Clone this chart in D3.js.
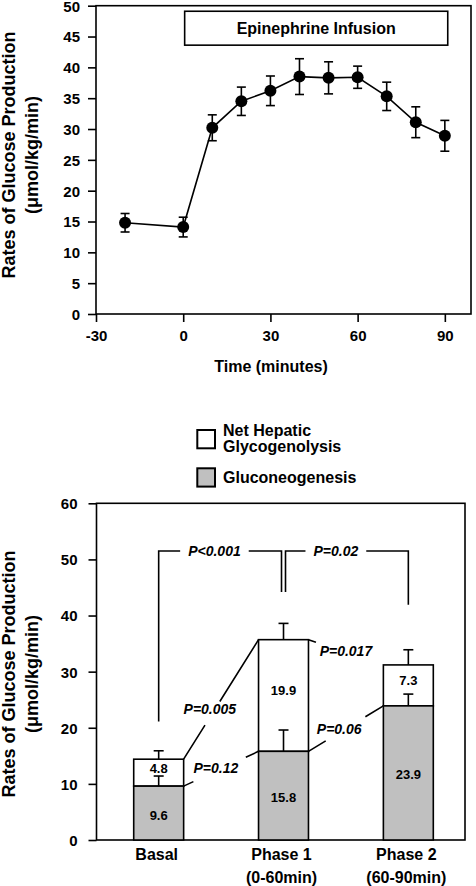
<!DOCTYPE html>
<html>
<head>
<meta charset="utf-8">
<script src="https://cdn.jsdelivr.net/npm/d3@7"></script>
<style>
  html, body { margin: 0; padding: 0; background: #fff; }
  svg { display: block; }
  text { font-family: "Liberation Sans", Arial, Helvetica, sans-serif; font-weight: bold; fill: #000; }
</style>
</head>
<body>
<svg id="chart" width="476" height="886"></svg>
<script>
// ---------------- DATA ----------------
// Top panel: time course
const timeMinutes = [-20, 0, 10, 20, 30, 40, 50, 60, 70, 80, 90];
const glucoseProd = [14.8, 14.1, 30.2, 34.5, 36.2, 38.5, 38.3, 38.4, 35.3, 31.1, 28.9];
const glucoseErr  = [1.5, 1.6, 2.1, 2.3, 2.4, 2.9, 2.6, 1.8, 2.3, 2.5, 2.5];
const timeTicks   = [-30, 0, 30, 60, 90];
const topYTicks   = [0, 5, 10, 15, 20, 25, 30, 35, 40, 45, 50];
const infusionLabel = "Epinephrine Infusion";
const infusionStart = 0, infusionEnd = 90;

// Bottom panel: stacked bars
const phases        = ["Basal", "Phase 1", "Phase 2"];
const phaseSubLabel = ["", "(0-60min)", "(60-90min)"];
const gluconeo      = [9.6, 15.8, 23.9];
const gluconeoErr   = [1.8, 3.8, 2.1];
const glycogenolysis    = [4.8, 19.9, 7.3];
const totalErr      = [1.5, 2.9, 2.7];
const bottomYTicks  = [0, 10, 20, 30, 40, 50, 60];
const legendLabels  = [["Net Hepatic", "Glycogenolysis"], ["Gluconeogenesis"]];

// Statistical comparisons
const bracketComparisons = [
  { label: "P<0.001", from: "Basal",   to: "Phase 1" },
  { label: "P=0.02",  from: "Phase 1", to: "Phase 2" }
];
const lineComparisons = [
  { label: "P=0.005", from: "Basal",   to: "Phase 1", series: "total" },
  { label: "P=0.12",  from: "Basal",   to: "Phase 1", series: "gng" },
  { label: "P=0.017", from: "Phase 1", to: "Phase 2", series: "total" },
  { label: "P=0.06",  from: "Phase 1", to: "Phase 2", series: "gng" }
];

// ---------------- LAYOUT (not data) ----------------
const bracketLayout = {
  topLevel: 51.5,
  legEnd: { "Basal": 21.1, "Phase 1": 44.2, "Phase 2": 41.9 },
  textT: [0.454, 0.41],
  gapPad: 8,
  legOffset: 2
};
const lineLayout = [
  { gap: [0.285, 0.483], textT: 0.35, dy: -8 },
  { gap: [0.13, 0.83],   textT: 0.43, dy: -3 },
  { gap: [0.10, 1.0],    textT: 0.50, dy: -1 },
  { gap: [0.23, 0.76],   textT: 0.41, dy: -4 }
];

const svg = d3.select("#chart");
const LW = 1.6;
const AXIS_FONT = "15px";
const plainFmt = d => String(d);

// ================= TOP PANEL =================
const xT = d3.scaleLinear().domain([-30, 99]).range([96, 471]);
const yT = d3.scaleLinear().domain([0, 50]).range([314, 5.7]);

const topG = svg.append("g");

// frame
topG.append("rect")
  .attr("x", xT.range()[0]).attr("y", yT.range()[1])
  .attr("width", xT.range()[1] - xT.range()[0])
  .attr("height", yT.range()[0] - yT.range()[1])
  .attr("fill", "none").attr("stroke", "#000").attr("stroke-width", LW);

const yAxisT = topG.append("g")
  .attr("transform", `translate(${xT.range()[0]},0)`)
  .call(d3.axisLeft(yT).tickValues(topYTicks).tickFormat(plainFmt).tickSize(8).tickPadding(8).tickSizeOuter(0));
const xAxisT = topG.append("g")
  .attr("transform", `translate(0,${yT.range()[0]})`)
  .call(d3.axisBottom(xT).tickValues(timeTicks).tickFormat(plainFmt).tickSize(8).tickPadding(5).tickSizeOuter(0));
[yAxisT, xAxisT].forEach(a => {
  a.select(".domain").remove();
  a.selectAll(".tick line").attr("stroke", "#000").attr("stroke-width", LW);
  a.selectAll(".tick text").style("font-size", AXIS_FONT).style("font-weight", "bold")
    .style("font-family", '"Liberation Sans", Arial, sans-serif').attr("fill", "#000");
});
xAxisT.selectAll(".tick text").attr("dy", "0.9em");
yAxisT.selectAll(".tick text").attr("dy", "0.36em");

// infusion box
topG.append("rect")
  .attr("x", xT(infusionStart + 0.5)).attr("y", yT(49.1))
  .attr("width", xT(infusionEnd + 1) - xT(infusionStart + 0.5))
  .attr("height", yT(43.6) - yT(49.1))
  .attr("fill", "#fff").attr("stroke", "#000").attr("stroke-width", LW);
topG.append("text")
  .attr("x", (xT(infusionStart + 0.5) + xT(infusionEnd + 1)) / 2)
  .attr("y", (yT(49.1) + yT(43.6)) / 2)
  .attr("text-anchor", "middle").attr("dominant-baseline", "central")
  .style("font-size", "16px").text(infusionLabel);

const pts = timeMinutes.map((t, i) => ({ t, v: glucoseProd[i], e: glucoseErr[i] }));

// error bars
const eb = topG.append("g").attr("stroke", "#000").attr("stroke-width", LW);
pts.forEach(p => {
  eb.append("line").attr("x1", xT(p.t)).attr("x2", xT(p.t))
    .attr("y1", yT(p.v - p.e)).attr("y2", yT(p.v + p.e));
  [p.v - p.e, p.v + p.e].forEach(v => {
    eb.append("line").attr("x1", xT(p.t) - 4.5).attr("x2", xT(p.t) + 4.5)
      .attr("y1", yT(v)).attr("y2", yT(v));
  });
});
// line
topG.append("path").datum(pts)
  .attr("d", d3.line().x(d => xT(d.t)).y(d => yT(d.v)))
  .attr("fill", "none").attr("stroke", "#000").attr("stroke-width", LW);
// points
topG.selectAll("circle.pt").data(pts).join("circle")
  .attr("cx", d => xT(d.t)).attr("cy", d => yT(d.v)).attr("r", 6).attr("fill", "#000");

// axis titles
function yTitle(g, cy) {
  g.append("text").attr("transform", `translate(15,${cy}) rotate(-90)`)
    .attr("text-anchor", "middle").style("font-size", "18px").text("Rates of Glucose Production");
  g.append("text").attr("transform", `translate(38,${cy}) rotate(-90)`)
    .attr("text-anchor", "middle").style("font-size", "18px").text("(μmol/kg/min)");
}
yTitle(topG, 155);
topG.append("text").attr("x", 271).attr("y", 366)
  .attr("text-anchor", "middle").attr("dominant-baseline", "central")
  .style("font-size", "16px").text("Time (minutes)");

// ================= BOTTOM PANEL =================
const xB = d3.scaleBand().domain(phases).range([96.5, 465])
  .paddingInner(0.6).paddingOuter(0.276).align(0.54);
const yB = d3.scaleLinear().domain([0, 60]).range([840, 503.3]);
const bot = svg.append("g");

bot.append("rect")
  .attr("x", xB.range()[0]).attr("y", yB.range()[1])
  .attr("width", xB.range()[1] - xB.range()[0])
  .attr("height", yB.range()[0] - yB.range()[1])
  .attr("fill", "none").attr("stroke", "#000").attr("stroke-width", LW);

const yAxisB = bot.append("g").attr("transform", `translate(${xB.range()[0]},0)`)
  .call(d3.axisLeft(yB).tickValues(bottomYTicks).tickFormat(plainFmt).tickSize(8).tickPadding(11).tickSizeOuter(0));
yAxisB.select(".domain").remove();
yAxisB.selectAll(".tick line").attr("stroke", "#000").attr("stroke-width", LW);
yAxisB.selectAll(".tick text").style("font-size", AXIS_FONT).style("font-weight", "bold")
  .style("font-family", '"Liberation Sans", Arial, sans-serif').attr("fill", "#000").attr("dy", "0.36em");

const xAxisB = bot.append("g").attr("transform", `translate(0,${yB.range()[0]})`)
  .call(d3.axisBottom(xB).tickSize(0).tickPadding(0).tickSizeOuter(0));
xAxisB.select(".domain").remove();
xAxisB.selectAll(".tick text").each(function(d, i) {
  const t = d3.select(this).text(null).attr("y", 0).attr("dy", null)
    .style("font-size", "16px").style("font-weight", "bold")
    .style("font-family", '"Liberation Sans", Arial, sans-serif').attr("fill", "#000");
  t.append("tspan").attr("x", -2).attr("y", 20).text(d);
  const sub = phaseSubLabel[phases.indexOf(d)];
  if (sub) t.append("tspan").attr("x", -2).attr("y", 43).text(sub);
});

const bars = phases.map((p, i) => ({
  p, g: gluconeo[i], ge: gluconeoErr[i], n: glycogenolysis[i], te: totalErr[i],
  total: gluconeo[i] + glycogenolysis[i]
}));
const bw = xB.bandwidth();
const GRAY = "#c0c0c0";

bars.forEach(b => {
  const x0 = xB(b.p), cx = x0 + bw / 2;
  bot.append("rect").attr("x", x0).attr("y", yB(b.total)).attr("width", bw)
    .attr("height", yB(b.g) - yB(b.total)).attr("fill", "#fff").attr("stroke", "#000").attr("stroke-width", LW);
  bot.append("rect").attr("x", x0).attr("y", yB(b.g)).attr("width", bw)
    .attr("height", yB(0) - yB(b.g)).attr("fill", GRAY).attr("stroke", "#000").attr("stroke-width", LW);
  [[b.g, b.ge], [b.total, b.te]].forEach(([v, e]) => {
    bot.append("line").attr("x1", cx).attr("x2", cx).attr("y1", yB(v)).attr("y2", yB(v + e))
      .attr("stroke", "#000").attr("stroke-width", LW);
    bot.append("line").attr("x1", cx - 5).attr("x2", cx + 5).attr("y1", yB(v + e)).attr("y2", yB(v + e))
      .attr("stroke", "#000").attr("stroke-width", LW);
  });
  bot.append("text").attr("x", cx).attr("y", yB(b.g / 2) + 2).attr("text-anchor", "middle")
    .attr("dominant-baseline", "central").style("font-size", "13px").text(b.g.toFixed(1));
  bot.append("text").attr("x", cx).attr("y", yB(b.g + b.n / 2) - 4.5).attr("text-anchor", "middle")
    .attr("dominant-baseline", "central").style("font-size", "13px").text(b.n.toFixed(1));
});

// brackets
bracketComparisons.forEach((c, i) => {
  const xa = xB(c.from) + bw / 2 + (c.from === "Phase 1" ? bracketLayout.legOffset : 0);
  const xb = xB(c.to) + bw / 2 - (c.to === "Phase 1" ? bracketLayout.legOffset : 0);
  const yTop = yB(bracketLayout.topLevel);
  const tx = xa + (xb - xa) * bracketLayout.textT[i];
  const txt = bot.append("text").attr("x", tx).attr("y", yTop).attr("text-anchor", "middle")
    .attr("dominant-baseline", "central").style("font-size", "14px").style("font-style", "italic").text(c.label);
  const half = txt.node().getComputedTextLength() / 2 + bracketLayout.gapPad;
  const path = d3.path();
  path.moveTo(xa, yB(bracketLayout.legEnd[c.from]));
  path.lineTo(xa, yTop);
  path.lineTo(tx - half, yTop);
  path.moveTo(tx + half, yTop);
  path.lineTo(xb, yTop);
  path.lineTo(xb, yB(bracketLayout.legEnd[c.to]));
  bot.append("path").attr("d", path.toString()).attr("fill", "none").attr("stroke", "#000").attr("stroke-width", LW);
});

// diagonal comparison lines
lineComparisons.forEach((c, i) => {
  const L = lineLayout[i];
  const ia = phases.indexOf(c.from), ib = phases.indexOf(c.to);
  const va = c.series === "total" ? bars[ia].total : bars[ia].g;
  const vb = c.series === "total" ? bars[ib].total : bars[ib].g;
  const x0 = xB(c.from) + bw, y0 = yB(va);
  const x1 = xB(c.to), y1 = yB(vb);
  const at = t => [x0 + (x1 - x0) * t, y0 + (y1 - y0) * t];
  const p = d3.path();
  const g0 = at(L.gap[0]), g1 = at(L.gap[1]);
  p.moveTo(x0, y0); p.lineTo(g0[0], g0[1]);
  if (L.gap[1] < 1) { p.moveTo(g1[0], g1[1]); p.lineTo(x1, y1); }
  bot.append("path").attr("d", p.toString()).attr("fill", "none").attr("stroke", "#000").attr("stroke-width", LW);
  const tp = at(L.textT);
  bot.append("text").attr("x", tp[0]).attr("y", tp[1] + L.dy).attr("text-anchor", "middle")
    .attr("dominant-baseline", "central").style("font-size", "14px").style("font-style", "italic").text(c.label);
});

yTitle(bot, 674);

// legend
const legend = bot.append("g");
const legendFills = ["#fff", GRAY];
const legendBoxY = [430, 468.3];
legendLabels.forEach((lines, i) => {
  legend.append("rect").attr("x", 197.3).attr("y", legendBoxY[i]).attr("width", 17.7).attr("height", 18.3)
    .attr("fill", legendFills[i]).attr("stroke", "#000").attr("stroke-width", 2);
  lines.forEach((ln, j) => {
    const cy = lines.length === 1 ? legendBoxY[i] + 9.5 : legendBoxY[i] + j * 16.5;
    legend.append("text").attr("x", 223).attr("y", cy).attr("dominant-baseline", "central")
      .style("font-size", "16px").text(ln);
  });
});
</script>
</body>
</html>
